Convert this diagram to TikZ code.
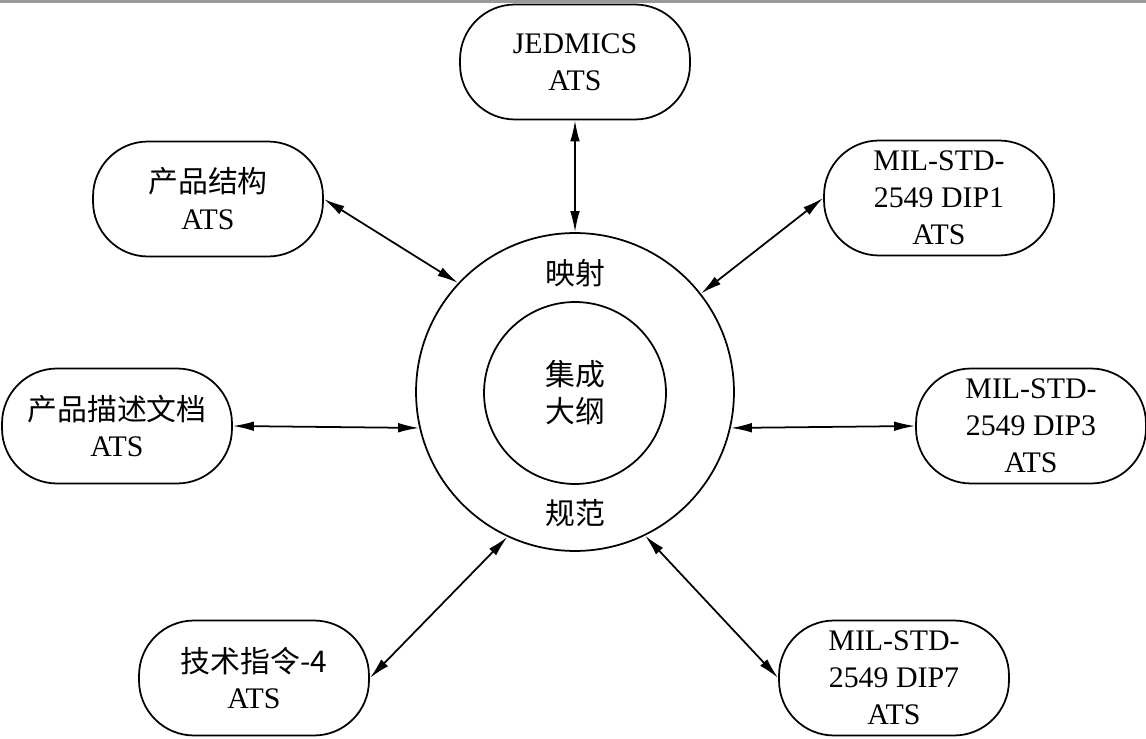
\documentclass[tikz,border=0pt]{standalone}
\usepackage{fontspec}
\setmainfont{Liberation Serif}
\newfontfamily\cjk{Noto Sans CJK SC}
\usetikzlibrary{arrows.meta}
\tikzset{
	atsbox/.style={draw, line width=1pt, rounded corners=1.1cm, minimum width=4.6cm, minimum height=2.3cm, inner sep=0pt, align=center, font=\fontsize{17}{21}\selectfont},
	ringline/.style={draw, circle, line width=1pt, inner sep=0pt, align=center, font=\fontsize{17}{21}\selectfont\cjk},
	cjklabel/.style={font=\fontsize{17}{21}\selectfont\cjk},
	link/.style={{Latex[length=12pt,width=5.5pt]}-{Latex[length=12pt,width=5.5pt]}, line width=1pt}
}
\begin{document}
\begin{tikzpicture}[x=0.02cm, y=-0.02cm]
			\useasboundingbox (0,0) rectangle (1146,739);
			\draw[gray!80, line width=2pt] (0,1) -- (1146,1);
			\node[ringline, minimum size=6.36cm] (ring) at (575,392) {};
			\node[ringline, minimum size=3.64cm] (core) at (575,393) {集成\\大纲};
			\node[cjklabel] (map) at (575,273) {映射};
			\node[cjklabel] (norm) at (575,513) {规范};
			\foreach \nm/\px/\py/\txt in {%
				jed/575/62/{JEDMICS\\ATS},%
				prod/208/199/{{\cjk 产品结构}\\ATS},%
				dip1/939/198/{MIL-STD-\\2549 DIP1\\ATS},%
				desc/117/426/{{\cjk 产品描述文档}\\ATS},%
				dip3/1031/426/{MIL-STD-\\2549 DIP3\\ATS},%
				tech/254/678/{{\cjk 技术指令-4}\\ATS},%
				dip7/894/678/{MIL-STD-\\2549 DIP7\\ATS}}{
				\node[atsbox] (\nm) at (\px,\py) {\txt};
			}
			\foreach \from/\to in {jed.south/ring.north, prod.east/ring.137, dip1.west/ring.38, desc.east/ring.193, dip3.west/ring.-13, tech.east/ring.245, dip7.west/ring.-64}{
				\draw[link] (\from) -- (\to);
			}
		\end{tikzpicture}
\end{document}
